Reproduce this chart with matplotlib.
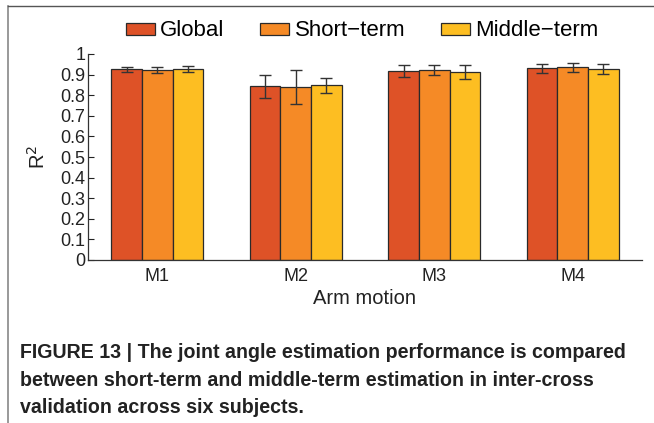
import matplotlib
matplotlib.use("Agg")
import matplotlib.pyplot as plt
from matplotlib.lines import Line2D
import numpy as np

categories = ["M1", "M2", "M3", "M4"]
series_names = ["Global", "Short\u2212term", "Middle\u2212term"]
global_vals = [0.926, 0.843, 0.916, 0.930]
short_vals = [0.924, 0.840, 0.922, 0.935]
middle_vals = [0.929, 0.848, 0.913, 0.927]
global_err = [0.011, 0.055, 0.029, 0.022]
short_err = [0.014, 0.083, 0.026, 0.023]
middle_err = [0.015, 0.036, 0.036, 0.024]
yticks = [0, 0.1, 0.2, 0.3, 0.4, 0.5, 0.6, 0.7, 0.8, 0.9, 1]
ytick_labels = ["0", "0.1", "0.2", "0.3", "0.4", "0.5", "0.6", "0.7", "0.8", "0.9", "1"]
caption = ("FIGURE 13 | The joint angle estimation performance is compared\n"
           "between short-term and middle-term estimation in inter-cross\n"
           "validation across six subjects.")

colors = ["#DE5227", "#F58A26", "#FDBE22"]
W, H = 654, 423
fig = plt.figure(figsize=(W / 100, H / 100), dpi=100)
plt.rcParams['font.family'] = ['Liberation Sans', 'DejaVu Sans']

ax = fig.add_axes([88 / W, 1 - 260 / H, (642 - 88) / W, (260 - 54) / H])
x = np.arange(1, len(categories) + 1)
bw = 0.222
vals = [global_vals, short_vals, middle_vals]
errs = [global_err, short_err, middle_err]
handles = []
for i in range(3):
    xi = x + (i - 1) * bw
    b = ax.bar(xi, vals[i], width=bw, color=colors[i], edgecolor="#2a2a2a",
               linewidth=0.9, label=series_names[i], zorder=2)
    ax.errorbar(xi, vals[i], yerr=errs[i], fmt="none", ecolor="#333333",
                elinewidth=1.0, capsize=4, capthick=1.0, zorder=3)
    handles.append(b)

ax.set_xlim(0.5, 4.5)
ax.set_ylim(0, 1)
ax.set_yticks(yticks)
ax.set_yticklabels(ytick_labels)
ax.set_xticks(x)
ax.set_xticklabels(categories)
ax.tick_params(axis="y", direction="in", length=4, labelsize=13, pad=2, colors="#222222", width=0.8)
ax.tick_params(axis="x", length=0, labelsize=13, pad=6, colors="#222222")
for s in ["top", "right"]:
    ax.spines[s].set_visible(False)
for s in ["left", "bottom"]:
    ax.spines[s].set_color("#333333")
    ax.spines[s].set_linewidth(0.9)
ax.set_xlabel("Arm motion", fontsize=14.5, color="#222222", labelpad=3)
ax.set_ylabel("R$^2$", fontsize=14.5, color="#222222", labelpad=8)

leg = fig.legend(handles=handles, labels=series_names, loc="center",
                 bbox_to_anchor=(362 / W, 1 - 31 / H), ncol=3, frameon=False,
                 fontsize=16, handlelength=1.3, handleheight=0.45,
                 columnspacing=1.6, handletextpad=0.25)

fig.text(20 / W, 1 - 343 / H, caption, fontsize=14.1, fontweight="bold",
         va="top", ha="left", color="#222222", linespacing=1.58,
         family=['Liberation Sans', 'DejaVu Sans'])

# figure frame lines
fig.add_artist(Line2D([8 / W, 8 / W], [0, 1 - 6 / H], transform=fig.transFigure,
                      color="#888888", linewidth=1.2))
fig.add_artist(Line2D([8 / W, 1], [1 - 6 / H, 1 - 6 / H], transform=fig.transFigure,
                      color="#555555", linewidth=1.0))

fig.savefig("out.png", dpi=100)
